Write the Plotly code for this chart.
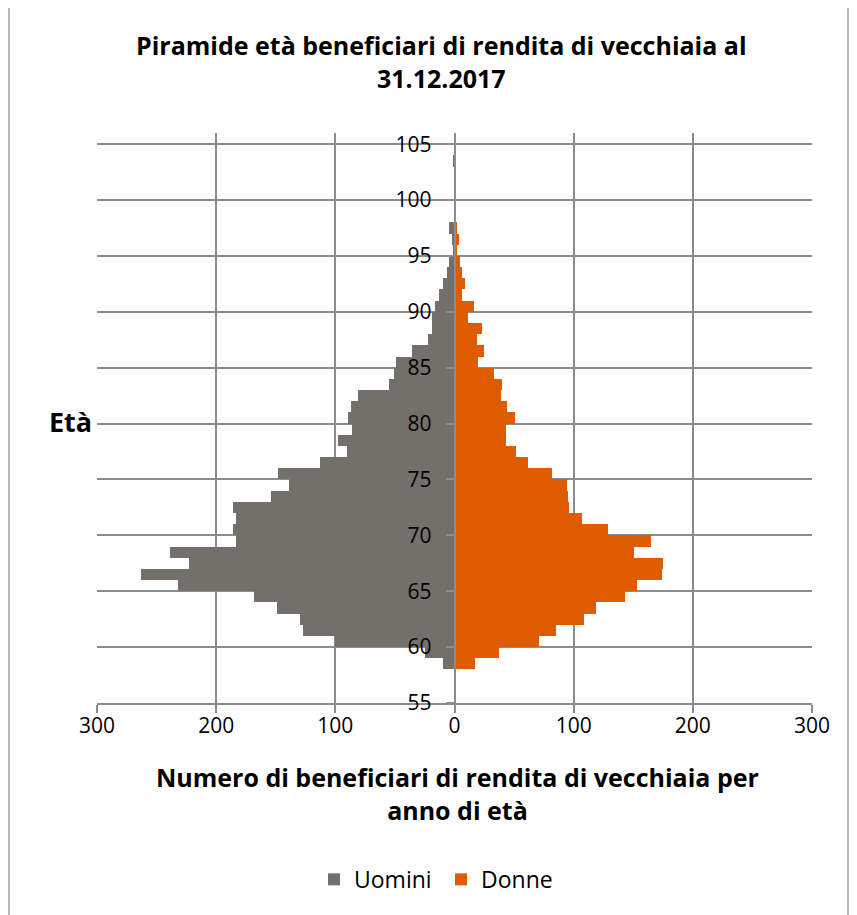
import plotly.graph_objects as go

ages = list(range(58, 104))
uomini = [10, 25, 100, 127, 130, 149, 168, 232, 263, 223, 239, 183, 186, 183, 186, 154,
          139, 148, 113, 90, 98, 86, 89, 87, 81, 55, 51, 49, 36, 22, 19, 19, 16, 13, 10, 6,
          5, 1, 2, 5, 0, 0, 0, 0, 0, 1]
donne = [17, 37, 71, 85, 109, 119, 143, 153, 174, 175, 151, 165, 129, 107, 96, 95,
         94, 82, 62, 52, 43, 43, 51, 44, 39, 40, 33, 20, 25, 19, 23, 11, 16, 6, 9, 6,
         5, 2, 4, 2, 0, 0, 0, 0, 0, 0]
x_ticks = [-300, -200, -100, 0, 100, 200, 300]
x_ticktext = ["300", "200", "100", "0", "100", "200", "300"]
y_ticks = [55, 60, 65, 70, 75, 80, 85, 90, 95, 100, 105]

FONT = "Open Sans"
GRID = "#8c8c8c"

yc = [a + 0.5 for a in ages]

fig = go.Figure()
fig.add_trace(go.Bar(
    y=yc, x=[-v for v in uomini], orientation="h", name="Uomini",
    marker=dict(color="#736f6a", line=dict(width=0)), width=1,
    customdata=uomini, hovertemplate="Età %{y}<br>Uomini: %{customdata}<extra></extra>",
))
fig.add_trace(go.Bar(
    y=yc, x=donne, orientation="h", name="Donne",
    marker=dict(color="#de5b00", line=dict(width=0)), width=1,
    hovertemplate="Età %{y}<br>Donne: %{x}<extra></extra>",
))

# page has an 8px body margin: figure is offset by OFF px
OFF = 8
W, H = 857 - OFF, 915 - OFF
L, R, T, B = 97 - OFF, 45, 133 - OFF, 212.3
pw = W - L - R
ph = H - T - B

def px(x):
    return (x - OFF - L) / pw

def py(y):
    return (H - B - (y - OFF)) / ph

fig.update_layout(
    width=W, height=H,
    margin=dict(l=L, r=R, t=T, b=B, pad=0),
    paper_bgcolor="white", plot_bgcolor="white",
    barmode="overlay", bargap=0,
    font=dict(family=FONT, size=21, color="black"),
    showlegend=True,
    legend=dict(orientation="h", x=px(314), xanchor="left", y=py(879), yanchor="middle",
                font=dict(size=23, family=FONT), itemwidth=30, traceorder="normal",
                bgcolor="rgba(0,0,0,0)", entrywidth=82, entrywidthmode="pixels"),
    xaxis=dict(
        range=[-300, 300], tickvals=x_ticks, ticktext=x_ticktext,
        showgrid=True, gridcolor=GRID, gridwidth=1.5,
        showline=True, linecolor=GRID, linewidth=1.5,
        ticks="outside", ticklen=8, tickcolor=GRID, tickwidth=1.5,
        zeroline=False, tickfont=dict(size=21, family=FONT), ticklabelstandoff=-5,
        fixedrange=True,
    ),
    yaxis=dict(
        range=[55, 106], tickvals=y_ticks,
        showgrid=True, gridcolor=GRID, gridwidth=1.5,
        showline=True, linecolor=GRID, linewidth=1.5,
        ticks="outside", ticklen=8, tickcolor=GRID, tickwidth=1.5,
        anchor="free", position=0.5, zeroline=False,
        tickfont=dict(size=21, family=FONT), ticklabelstandoff=10,
        fixedrange=True,
    ),
    annotations=[
        dict(text="<b>Piramide età beneficiari di rendita di vecchiaia al<br>31.12.2017</b>",
             x=px(441), y=py(62), xref="paper", yref="paper", showarrow=False,
             xanchor="center", yanchor="middle", font=dict(size=25, family=FONT)),
        dict(text="<b>Numero di beneficiari di rendita di vecchiaia per<br>anno di età</b>",
             x=px(457), y=py(793), xref="paper", yref="paper", showarrow=False,
             xanchor="center", yanchor="middle", font=dict(size=25, family=FONT)),
        dict(text="<b>Età</b>", x=px(70), y=py(421), xref="paper", yref="paper",
             showarrow=False, xanchor="center", yanchor="middle",
             font=dict(size=27, family=FONT)),
    ],
    shapes=[
        dict(type="rect", xref="paper", yref="paper",
             x0=px(9), x1=px(848), y0=py(930), y1=py(7),
             line=dict(color="#a0a0a0", width=1.5), fillcolor="rgba(0,0,0,0)", layer="below"),
    ],
)

fig.write_html("out.html")
